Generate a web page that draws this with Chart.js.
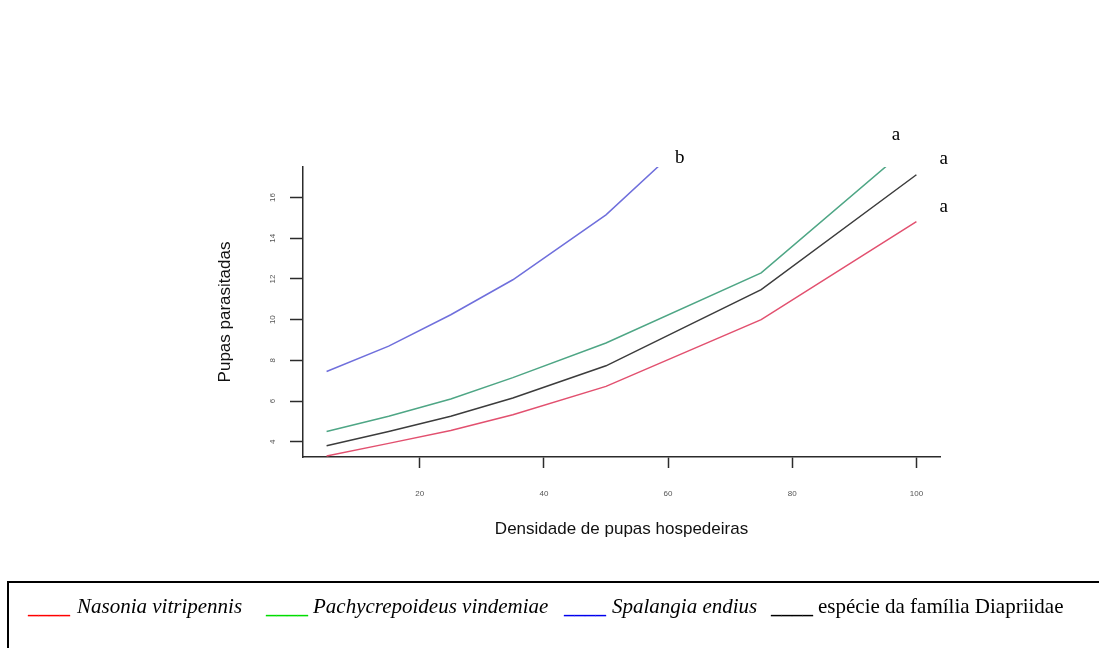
<!DOCTYPE html>
<html lang="pt">
<head>
<meta charset="utf-8">
<title>Pupas parasitadas</title>
<script src="https://cdn.jsdelivr.net/npm/chart.js@4"></script>
<style>
    html, body {
        margin: 0;
        padding: 0;
        background: #ffffff;
        overflow: hidden;
    }
    #wrap {
        position: relative;
        width: 1099px;
        height: 648px;
    }
    #chart {
        position: absolute;
        left: 0;
        top: 0;
    }
    .legend-box {
        position: absolute;
        left: 7px;
        top: 581px;
        width: 1120px;
        height: 100px;
        border: 2px solid #000;
        font-family: "Liberation Serif", "Times New Roman", serif;
        font-size: 21px;
        line-height: 24px;
    }
    .legend-box span {
        position: absolute;
        top: 11px;
        white-space: nowrap;
    }
    .legend-box .key { font-weight: bold; }
    .legend-box .sp { font-style: italic; color: #000; }
    .legend-box .plain { color: #000; }
</style>
</head>
<body>
<div id="wrap">
    <canvas id="chart" width="1099" height="648"></canvas>
    <div class="legend-box">
        <span class="key" style="left:19px;color:#ff0000">____</span>
        <span class="sp" style="left:68px">Nasonia vitripennis</span>
        <span class="key" style="left:257px;color:#00dd00">____</span>
        <span class="sp" style="left:304px">Pachycrepoideus vindemiae</span>
        <span class="key" style="left:555px;color:#0000ee">____</span>
        <span class="sp" style="left:603px">Spalangia endius</span>
        <span class="key" style="left:762px;color:#000">____</span>
        <span class="plain" style="left:809px">espécie da família Diapriidae</span>
    </div>
</div>
<script>
// Host pupae offered per replicate
const densities = [5, 15, 25, 35, 50, 75, 100];

// Fitted number of parasitized pupae per species
const nasonia = [3.30, 3.92, 4.55, 5.33, 6.72, 10.0, 14.82];
const pachycrepoideus = [4.50, 5.25, 6.10, 7.15, 8.85, 12.3, 18.8];
const spalangia = [7.45, 8.70, 10.24, 11.96, 15.15, 22.2];
const diapriidae = [3.80, 4.50, 5.25, 6.15, 7.73, 11.47, 17.12];

const xTicks = [20, 40, 60, 80, 100];
const yTicks = [4, 6, 8, 10, 12, 14, 16];

// Significance letters placed next to the curve ends (data coordinates)
const letterText = ['b', 'a', 'a', 'a'];
const letterX = [61.9, 96.7, 104.4, 104.4];
const letterY = [17.94, 19.07, 17.89, 15.53];

const toPoints = (values) => values.map((v, i) => ({ x: densities[i], y: v }));

const axisColor = '#2b2b2b';
const tickFont = { family: 'Liberation Sans, Arial, sans-serif', size: 8 };
const titleFont = { family: 'Liberation Sans, Arial, sans-serif', size: 17 };

const lettersPlugin = {
    id: 'letters',
    afterDraw(chart) {
        const ctx = chart.ctx;
        const xs = chart.scales.x;
        const ys = chart.scales.y;
        ctx.save();
        ctx.font = '19px "Liberation Serif", "Times New Roman", serif';
        ctx.fillStyle = '#000';
        ctx.textAlign = 'center';
        ctx.textBaseline = 'middle';
        letterText.forEach((t, i) => {
            ctx.fillText(t, xs.getPixelForValue(letterX[i]), ys.getPixelForValue(letterY[i]));
        });
        ctx.restore();
    }
};

const lineStyle = (color) => ({
    borderColor: color,
    backgroundColor: color,
    borderWidth: 1.5,
    pointRadius: 0,
    tension: 0,
    fill: false
});

new Chart(document.getElementById('chart').getContext('2d'), {
    type: 'line',
    data: {
        datasets: [
            { label: 'Nasonia vitripennis', data: toPoints(nasonia), ...lineStyle('#e2506f') },
            { label: 'Pachycrepoideus vindemiae', data: toPoints(pachycrepoideus), ...lineStyle('#4ea685') },
            { label: 'Spalangia endius', data: toPoints(spalangia), ...lineStyle('#6f6fdc') },
            { label: 'espécie da família Diapriidae', data: toPoints(diapriidae), ...lineStyle('#3c3c3c') }
        ]
    },
    options: {
        responsive: false,
        animation: false,
        devicePixelRatio: 1,
        layout: {
            padding: { left: 0, top: 167, right: 159, bottom: 0 }
        },
        plugins: {
            legend: { display: false },
            tooltip: { enabled: false }
        },
        scales: {
            x: {
                type: 'linear',
                min: 1.2,
                max: 103.8,
                afterBuildTicks: (axis) => { axis.ticks = xTicks.map(v => ({ value: v })); },
                afterFit: (axis) => { axis.height = 191; },
                border: { color: axisColor, width: 1.5 },
                grid: {
                    drawOnChartArea: false,
                    drawTicks: true,
                    tickLength: 11,
                    tickColor: axisColor,
                    tickWidth: 1.5
                },
                ticks: {
                    font: tickFont,
                    color: '#555',
                    padding: 21,
                    maxRotation: 0,
                    minRotation: 0
                },
                title: {
                    display: true,
                    text: 'Densidade de pupas hospedeiras',
                    font: titleFont,
                    color: '#111',
                    padding: { top: 0, bottom: 108 }
                }
            },
            y: {
                type: 'linear',
                min: 3.25,
                max: 17.5,
                afterBuildTicks: (axis) => { axis.ticks = yTicks.map(v => ({ value: v })); },
                afterFit: (axis) => { axis.width = 303; },
                border: { color: axisColor, width: 1.5 },
                grid: {
                    drawOnChartArea: false,
                    drawTicks: true,
                    tickLength: 13,
                    tickColor: axisColor,
                    tickWidth: 1.5
                },
                ticks: {
                    font: tickFont,
                    color: '#555',
                    padding: 13,
                    crossAlign: 'center',
                    minRotation: 90,
                    maxRotation: 90
                },
                title: {
                    display: true,
                    text: 'Pupas parasitadas',
                    font: titleFont,
                    color: '#111',
                    padding: { top: 215, bottom: 0 }
                }
            }
        }
    },
    plugins: [lettersPlugin]
});
</script>
</body>
</html>
